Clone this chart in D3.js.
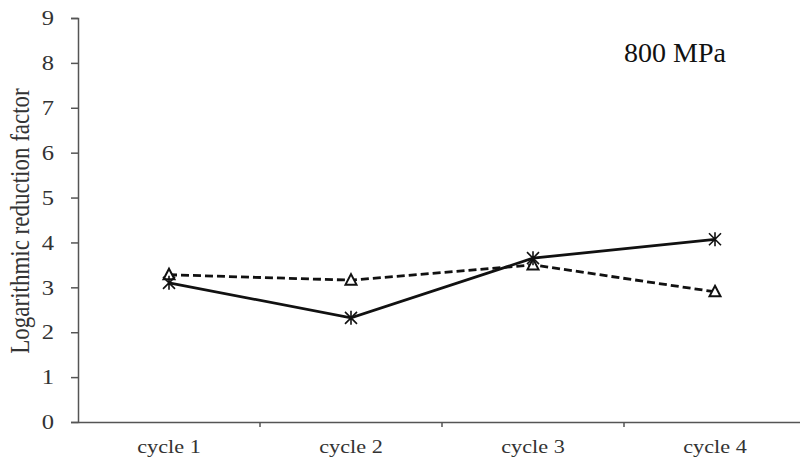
<!DOCTYPE html>
<html><head><meta charset="utf-8">
<script src="https://cdn.jsdelivr.net/npm/d3@7"></script>
<style>body{margin:0;background:#fff}svg{display:block}</style>
</head><body>
<svg id="c" width="800" height="462"></svg>
<script>
const categories = ["cycle 1","cycle 2","cycle 3","cycle 4"];
const seriesSolid = [3.1, 2.32, 3.65, 4.07];
const seriesDashed = [3.28, 3.16, 3.5, 2.9];
const yTicks = [0,1,2,3,4,5,6,7,8,9];
const annotation = "800 MPa";
const yTitle = "Logarithmic reduction factor";

const svg = d3.select("#c");
const font = "'Liberation Serif','Times New Roman',serif";
const sx = 1.17;
const x0 = 78, x1 = 806, yTop = 18, yBot = 422;
const x = d3.scaleBand().domain(categories).range([x0, x1]);
const y = d3.scaleLinear().domain([0, 9]).range([yBot, yTop]);
const cx = d => x(d) + x.bandwidth()/2;

// y axis
const ya = svg.append("g").attr("transform", `translate(${x0},0)`)
  .call(d3.axisLeft(y).tickValues(yTicks).tickSize(7).tickPadding(17));
ya.select(".domain").attr("stroke","#555").attr("stroke-width",1.5);
ya.selectAll(".tick line").attr("stroke","#555").attr("stroke-width",1.5);
ya.selectAll(".tick text").attr("font-family",font).attr("font-size",21).attr("fill","#333")
  .attr("x", -24/sx).attr("transform",`scale(${sx},1)`);

// x axis
const xa = svg.append("g").attr("transform", `translate(0,${yBot})`)
  .call(d3.axisBottom(x).tickSize(0).tickPadding(16));
xa.select(".domain").attr("stroke","#555").attr("stroke-width",1.5);
xa.selectAll(".tick text").attr("font-family",font).attr("font-size",19).attr("fill","#333")
  .attr("dy",null).attr("y",31).attr("transform",`scale(${sx},1)`);
// boundary ticks between bands
svg.append("g").selectAll("line").data(categories.slice(1)).join("line")
  .attr("x1", d => x(d)).attr("x2", d => x(d))
  .attr("y1", yBot).attr("y2", yBot+5)
  .attr("stroke","#555").attr("stroke-width",1.5);

// y title
svg.append("text").attr("transform", `translate(29,${221}) rotate(-90) scale(1,${sx})`)
  .attr("text-anchor","middle").attr("font-family",font).attr("font-size",23).attr("fill","#333")
  .text(yTitle);

// annotation
svg.append("text").attr("x", 675).attr("y", 62).attr("text-anchor","middle")
  .attr("font-family",font).attr("font-size",28).attr("fill","#111").text(annotation);

const line = d3.line().x((d,i) => cx(categories[i])).y(d => y(d));

svg.append("path").datum(seriesDashed).attr("d", line).attr("fill","none")
  .attr("stroke","#111").attr("stroke-width",2.8).attr("stroke-dasharray","8,4");
svg.append("path").datum(seriesSolid).attr("d", line).attr("fill","none")
  .attr("stroke","#111").attr("stroke-width",2.8);

// triangle markers
svg.append("g").selectAll("path").data(seriesDashed).join("path")
  .attr("transform",(d,i)=>`translate(${cx(categories[i])},${y(d)})`)
  .attr("d","M0,-6L5.5,4.5L-5.5,4.5Z").attr("fill","#fff").attr("stroke","#111").attr("stroke-width",2);

// asterisk markers
svg.append("g").selectAll("path").data(seriesSolid).join("path")
  .attr("transform",(d,i)=>`translate(${cx(categories[i])},${y(d)})`)
  .attr("d","M-6,-6L6,6M-6,6L6,-6M0,-7L0,7")
  .attr("fill","none").attr("stroke","#111").attr("stroke-width",1.6);
</script>
</body></html>
